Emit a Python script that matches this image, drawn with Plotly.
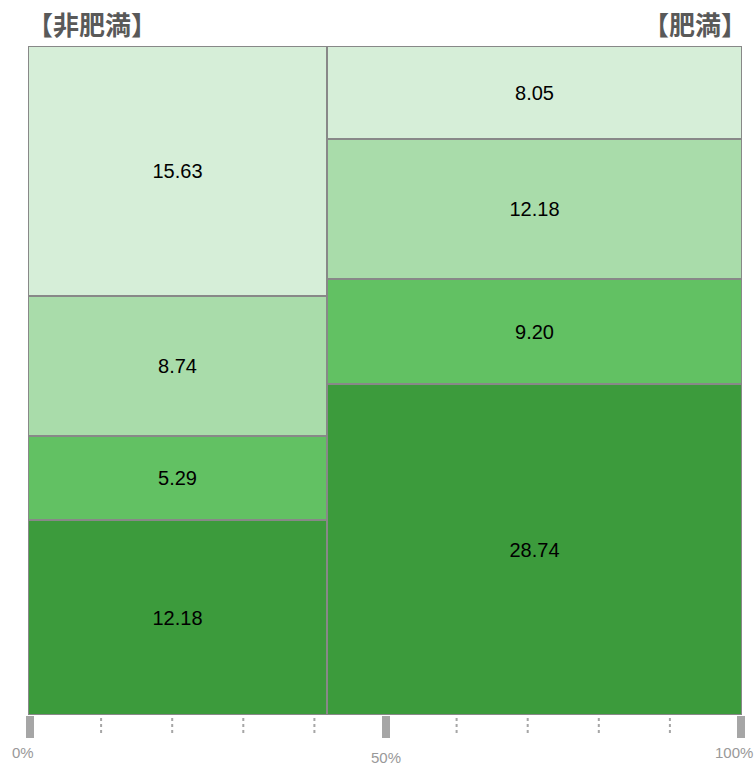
import plotly.graph_objects as go

groups = ["非肥満", "肥満"]
# segment values per group, bottom to top
seg_bottom = [12.18, 28.74]
seg_third = [5.29, 9.20]
seg_second = [8.74, 12.18]
seg_top = [15.63, 8.05]
segments = [seg_bottom, seg_third, seg_second, seg_top]
colors = ["#3c9b3c", "#62c163", "#a9dcaa", "#d6eed8"]

major_ticks = [0, 50, 100]
major_labels = ["0%", "50%", "100%"]
minor_ticks = [10, 20, 30, 40, 60, 70, 80, 90]

totals = [sum(s[i] for s in segments) for i in range(len(groups))]
grand = sum(totals)
widths = [t / grand * 100 for t in totals]
lefts = [sum(widths[:i]) for i in range(len(widths))]
centers = [l + w / 2 for l, w in zip(lefts, widths)]

fig = go.Figure()

# dummy trace for tick axis (added first so bars draw above)
fig.add_trace(go.Scatter(x=[0, 100], y=[0, 0], xaxis="x2", mode="markers",
                         marker=dict(opacity=0), showlegend=False, hoverinfo="skip"))

bases = [0.0] * len(groups)
for seg, col in zip(segments, colors):
    heights = [seg[i] / totals[i] * 100 for i in range(len(groups))]
    fig.add_trace(go.Bar(
        x=centers, y=heights, base=list(bases), width=widths,
        marker=dict(color=col, line=dict(color="#888888", width=2)),
        text=[f"{v:.2f}" for v in seg], textposition="inside",
        insidetextanchor="middle",
        textfont=dict(family="Liberation Sans, Arial", size=20, color="#000000"),
        showlegend=False, hoverinfo="skip",
    ))
    bases = [b + h for b, h in zip(bases, heights)]

W, H = 756, 766
ml, mr, mt, mb = 28, 14, 46, 51
pw = W - ml - mr
d0 = 2 / pw
d1 = 1 - 1 / pw

fig.update_layout(
    width=W, height=H,
    margin=dict(l=ml, r=mr, t=mt, b=mb),
    plot_bgcolor="rgba(0,0,0,0)", paper_bgcolor="white",
    barmode="overlay", bargap=0,
    uniformtext=dict(minsize=20, mode="show"),
    xaxis=dict(range=[0, 100], visible=False, domain=[0, 1]),
    xaxis2=dict(range=[0, 100], domain=[d0, d1], anchor="y",
                tickvals=major_ticks, ticks="outside", ticklen=22, tickwidth=8,
                tickcolor="#a6a6a6", showticklabels=False, showgrid=False,
                zeroline=False, showline=False),
    yaxis=dict(range=[0, 100], visible=False, fixedrange=True),
)

for t in minor_ticks:
    fig.add_shape(type="line", xref="x2", yref="paper", x0=t, x1=t,
                  y0=-3 / 669, y1=-21 / 669, layer="below",
                  line=dict(color="#a6a6a6", width=2, dash="dot"))

label_dy = [-37, -42, -37]
label_dx = [-7, 0, -7]
for t, lab, dy, dx in zip(major_ticks, major_labels, label_dy, label_dx):
    fig.add_annotation(x=t, xref="x2", y=0, yref="paper", text=lab, showarrow=False,
                       xanchor="center", yanchor="middle", yshift=dy, xshift=dx,
                       font=dict(family="Liberation Sans, Arial", size=15, color="#999999"))

fig.add_annotation(x=0, xref="paper", y=1, yref="paper", text="<b>【非肥満】</b>",
                   showarrow=False, xanchor="left", yanchor="bottom", yshift=2, xshift=-3,
                   font=dict(family="Noto Sans CJK JP", size=26, color="#595959"))
fig.add_annotation(x=1, xref="paper", y=1, yref="paper", text="<b>【肥満】</b>",
                   showarrow=False, xanchor="right", yanchor="bottom", yshift=2, xshift=7,
                   font=dict(family="Noto Sans CJK JP", size=26, color="#595959"))

fig.write_html("out.html")
